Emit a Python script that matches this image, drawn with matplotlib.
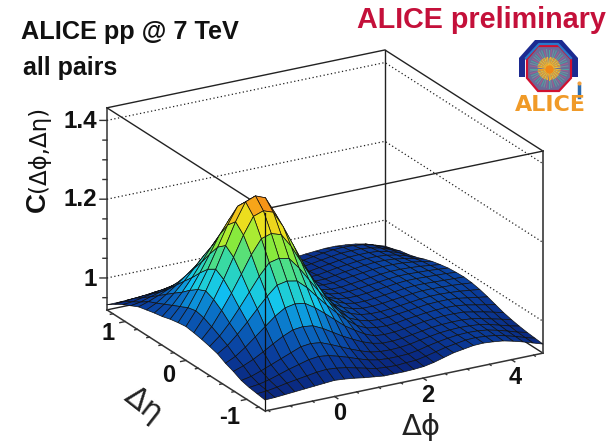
import numpy as np
import matplotlib
matplotlib.use('Agg')
from matplotlib import pyplot as plt
from matplotlib.colors import LinearSegmentedColormap, Normalize
from matplotlib.patches import Polygon
from mpl_toolkits.mplot3d import proj3d

plt.rcParams['font.family'] = ['Liberation Sans', 'DejaVu Sans']

# grid of the surface
phi = np.linspace(-np.pi / 2, 3 * np.pi / 2, 29)
eta = np.linspace(-1.3, 1.3, 21)
corr = [
    [.947, .948, .950, .952, .954, .956, .958, .960, .958, .955, .951, .948, .945, .945, .945, .946, .948, .953, .960, .967, .971, .975, .976, .974, .971, .965, .958, .950, .942],
    [.950, .952, .956, .961, .965, .969, .973, .975, .973, .969, .963, .957, .951, .949, .948, .950, .951, .956, .962, .968, .972, .976, .977, .975, .972, .966, .959, .951, .944],
    [.953, .956, .962, .970, .978, .985, .992, .995, .992, .985, .977, .968, .960, .955, .953, .953, .954, .958, .964, .969, .973, .976, .977, .976, .973, .967, .960, .952, .946],
    [.958, .963, .972, .982, .992, 1.002, 1.012, 1.015, 1.012, 1.002, .991, .980, .970, .962, .958, .957, .958, .961, .966, .970, .974, .976, .977, .976, .974, .969, .962, .955, .949],
    [.968, .977, .988, 1.002, 1.017, 1.031, 1.042, 1.045, 1.042, 1.030, 1.015, 1.000, .987, .975, .966, .961, .961, .963, .967, .971, .975, .977, .978, .978, .976, .971, .965, .959, .953],
    [.976, .988, 1.006, 1.027, 1.048, 1.069, 1.085, 1.090, 1.086, 1.070, 1.050, 1.029, 1.008, .992, .977, .967, .965, .966, .969, .973, .977, .979, .981, .981, .980, .975, .970, .964, .958],
    [.987, 1.003, 1.026, 1.052, 1.080, 1.107, 1.130, 1.135, 1.130, 1.108, 1.080, 1.053, 1.028, 1.005, .986, .974, .970, .969, .971, .975, .978, .981, .983, .984, .983, .980, .975, .970, .965],
    [.993, 1.014, 1.042, 1.075, 1.110, 1.145, 1.174, 1.180, 1.174, 1.145, 1.110, 1.075, 1.043, 1.015, .992, .981, .974, .972, .973, .976, .979, .982, .985, .986, .986, .984, .980, .976, .972],
    [.998, 1.025, 1.061, 1.100, 1.143, 1.187, 1.222, 1.230, 1.222, 1.187, 1.143, 1.100, 1.061, 1.025, .998, .985, .977, .974, .974, .976, .979, .982, .985, .987, .987, .986, .984, .981, .978],
    [1.002, 1.035, 1.076, 1.122, 1.173, 1.224, 1.266, 1.275, 1.266, 1.224, 1.173, 1.122, 1.076, 1.035, 1.002, .988, .979, .975, .975, .977, .980, .983, .986, .988, .988, .987, .986, .984, .982],
    [1.005, 1.040, 1.085, 1.135, 1.190, 1.245, 1.290, 1.300, 1.290, 1.245, 1.190, 1.135, 1.085, 1.040, 1.005, .990, .980, .975, .975, .977, .980, .983, .986, .988, .988, .987, .986, .985, .984],
    [1.002, 1.035, 1.076, 1.122, 1.173, 1.224, 1.266, 1.275, 1.266, 1.224, 1.173, 1.122, 1.076, 1.035, 1.002, .988, .979, .975, .975, .977, .980, .983, .986, .988, .988, .987, .986, .985, .983],
    [.998, 1.025, 1.061, 1.100, 1.143, 1.187, 1.222, 1.230, 1.222, 1.187, 1.143, 1.100, 1.061, 1.025, .998, .986, .978, .974, .974, .976, .979, .982, .985, .987, .987, .986, .985, .983, .981],
    [.992, 1.015, 1.043, 1.075, 1.110, 1.145, 1.174, 1.180, 1.174, 1.145, 1.110, 1.075, 1.043, 1.015, .992, .984, .976, .972, .972, .975, .978, .981, .984, .986, .986, .985, .983, .980, .977],
    [.988, 1.005, 1.028, 1.053, 1.080, 1.108, 1.130, 1.135, 1.130, 1.108, 1.080, 1.053, 1.028, 1.005, .988, .981, .973, .970, .970, .974, .977, .980, .983, .985, .985, .984, .981, .977, .972],
    [.983, .995, 1.012, 1.030, 1.050, 1.070, 1.086, 1.090, 1.086, 1.070, 1.050, 1.030, 1.012, .995, .983, .976, .970, .967, .967, .971, .975, .978, .981, .983, .983, .981, .977, .972, .965],
    [.978, .986, .996, 1.007, 1.020, 1.032, 1.043, 1.045, 1.043, 1.032, 1.020, 1.007, .996, .986, .978, .971, .966, .963, .964, .968, .972, .975, .978, .980, .980, .978, .973, .966, .957],
    [.968, .972, .980, .987, .995, 1.000, 1.007, 1.010, 1.007, 1.000, .995, .987, .980, .972, .968, .965, .961, .960, .961, .965, .969, .973, .976, .977, .977, .975, .969, .961, .951],
    [.958, .960, .965, .970, .975, .980, .984, .985, .984, .980, .975, .970, .965, .960, .958, .958, .956, .956, .958, .962, .966, .970, .973, .974, .974, .971, .965, .956, .947],
    [.946, .948, .951, .953, .956, .958, .960, .960, .960, .958, .956, .953, .951, .950, .950, .952, .951, .952, .955, .958, .962, .966, .969, .970, .969, .966, .960, .950, .940],
    [.932, .932, .933, .934, .935, .935, .936, .936, .936, .935, .936, .937, .938, .939, .940, .942, .944, .947, .950, .953, .956, .958, .960, .960, .958, .955, .950, .942, .934],
]
phi_major = [0, 2, 4]
phi_minor = [-1.5, -1, -.5, .5, 1, 1.5, 2.5, 3, 3.5, 4.5]
eta_major = [-1, 0, 1]
eta_minor = [-1.2, -.8, -.6, -.4, -.2, .2, .4, .6, .8, 1.2]
z_major = [1, 1.2, 1.4]
z_minor = [.95, 1.05, 1.1, 1.15, 1.25, 1.3, 1.35]

x0, x1 = phi[0], phi[-1]
y0, y1 = eta[0], eta[-1]
z0, z1 = .919, 1.432

cmap = LinearSegmentedColormap.from_list('alice', [
    (0.00, '#0a1c70'), (0.14, '#0a3f9e'), (0.25, '#0a6cc4'), (0.36, '#10c4f4'),
    (0.50, '#30d8b0'), (0.65, '#80e840'), (0.76, '#e8f020'), (0.92, '#f8a018'),
    (1.00, '#f05a10')])
norm = Normalize(.93, 1.30)

fig = plt.figure(figsize=(6.12, 4.42), dpi=100)
ax = fig.add_axes([(612 - 442) / 2 / 612, 0, 442 / 612, 1], projection='3d',
                  proj_type='ortho', computed_zorder=False)
ax.set_box_aspect((320, 319, 217))
ax.view_init(elev=21.4, azim=-119.7)
ax.set_xlim(x0, x1, view_margin=0)
ax.set_ylim(y0, y1, view_margin=0)
ax.set_zlim(z0, z1, view_margin=0)
ax.set_axis_off()

# put the box on the same pixels as in the picture
ax.apply_aspect()


def to_px(x, y, z):
    u, v, _ = proj3d.proj_transform(x, y, z, ax.get_proj())
    return ax.transData.transform((u, v))


pf = to_px(x0, y0, z0)
pr = to_px(x1, y0, z0)
f = 278 / (pr[0] - pf[0])
size = 442 * f
cx = 265 - f * (pf[0] - 306)
cy = (442 - 411) - f * (pf[1] - 221)
ax.set_position([(cx - size / 2) / 612, (cy - size / 2) / 442, size / 612, size / 442])

X, Y = np.meshgrid(phi, eta)
Z = np.array(corr)


def line3(xs, ys, zs, zo=1, **kw):
    style = dict(color='#222222', lw=1.0, clip_on=False, zorder=zo)
    style.update(kw)
    ax.plot(xs, ys, zs, **style)


# back walls with the dotted lines
line3([x0, x1, x1], [y1, y1, y0], [z1, z1, z1])
line3([x0, x1, x1], [y1, y1, y0], [z0, z0, z0])
line3([x1, x1], [y1, y1], [z0, z1])
line3([x1, x1], [y0, y0], [z0, z1], color='#555555', lw=1.4)
line3([x0, x0], [y1, y1], [z0, z1], color='#444444', lw=1.2)
line3([x0, x0, x1], [y1, y0, y0], [z1, z1, z1])
for v in z_major:
    line3([x0, x1, x1], [y1, y1, y0], [v, v, v], lw=.9, ls=(0, (1, 2)))

ax.plot_surface(X, Y, Z, facecolors=cmap(norm(Z)), edgecolor='#101010', linewidth=.5,
                rstride=1, cstride=1, shade=False, antialiased=True, zorder=2)

# front edges stay over the surface
line3([x0, x0], [y0, y0], [z0, z1 - .01], zo=3, lw=.9, color='#111111')
line3([x0, x0, x1], [y1, y0, y0], [z0, z0, z0], zo=3, color='#333333', lw=1.1)

# ticks: one pixel along the screen is about .017 in phi and .004 in eta
for v, n in [(a, 7) for a in z_major] + [(a, 4) for a in z_minor]:
    line3([x0, x0 - .01704 * n], [y1, y1 + .00405 * n], [v, v], zo=3, color='#333333')
for v, n in [(a, 6) for a in phi_major] + [(a, 3) for a in phi_minor]:
    line3([v, v], [y0, y0 - .0090 * n], [z0, z0], zo=3, color='#333333')
for v, n in [(a, 6) for a in eta_major] + [(a, 3) for a in eta_minor]:
    line3([x0, x0 - .0200 * n], [v, v], [z0, z0], zo=3, color='#333333')

# texts and logo in picture pixels
top = fig.add_axes([0, 0, 1, 1], zorder=5)
top.set_xlim(0, 612)
top.set_ylim(442, 0)
top.axis('off')
top.patch.set_alpha(0)

top.text(21, 32, 'ALICE pp @ 7 TeV', fontsize=18.2, fontweight='bold', color='#111111', ha='left', va='center')
top.text(23, 68, 'all pairs', fontsize=18, fontweight='bold', color='#111111', ha='left', va='center')
top.text(606, 20, 'ALICE preliminary', fontsize=20.7, fontweight='bold', color='#c4103a', ha='right', va='center')

for lab, yy in zip(['1', '1.2', '1.4'], [280, 199, 121]):
    top.text(97, yy, lab, fontsize=17.5, fontweight='bold', color='#111111', ha='right', va='center')
for lab, xx, yy in zip(['0', '2', '4'], [340, 428, 515], [413, 395, 377]):
    top.text(xx, yy, lab, fontsize=17, fontweight='bold', color='#111111', ha='center', va='center')
for lab, xx, yy in zip(['-1', '0', '1'], [230, 169, 108], [418, 375, 334]):
    top.text(xx, yy, lab, fontsize=17, fontweight='bold', color='#111111', ha='center', va='center')

top.text(38, 202, 'C', fontsize=20, fontweight='bold', rotation=90, color='#111111', ha='center', va='center')
top.text(38, 149, '(Δϕ,Δη)', fontsize=16.5, rotation=90, color='#111111', ha='center', va='center', family='DejaVu Sans')
top.text(421, 427, 'Δϕ', fontsize=21, color='#222222', ha='center', va='center', family='DejaVu Sans')
top.text(144, 405, 'Δη', fontsize=22, rotation=-38, color='#222222', ha='center', va='center', family='DejaVu Sans')

# logo
arch = [(519, 77), (519, 58), (535, 40), (562, 40), (578, 58), (578, 77), (572, 77), (572, 60), (559, 46), (538, 46), (525, 60), (525, 77)]
top.add_patch(Polygon(arch, closed=True, fc='#1c2a90', ec='none'))
top.plot([526, 539, 558, 571], [58, 44, 44, 58], color='#2a78c8', lw=1.6)
octa = [(538, 46), (559, 46), (571, 59), (571, 78), (559, 91), (538, 91), (527, 78), (527, 59)]
top.add_patch(Polygon(octa, closed=True, fc='#6a6a98', ec='#d01030', lw=1.6))
for i, a in enumerate(np.linspace(0, 2 * np.pi, 48, endpoint=False)):
    c = ['#50a0a0', '#a06090', '#7090a0'][i % 3]
    top.plot([549 + 6 * np.cos(a), 549 + 19 * np.cos(a)], [68.5 + 6 * np.sin(a), 68.5 + 19 * np.sin(a)], color=c, lw=.8)
    top.plot([549, 549 + 11 * np.cos(a)], [68.5, 68.5 + 11 * np.sin(a)], color=['#f0a020', '#e8c040'][i % 2], lw=.8)
top.plot([549], [68.5], 'o', color='#f08818', ms=6, mew=0)
top.plot([579, 579], [86, 97], color='#2a6ab0', lw=2.5)
top.plot([578.5], [83], 'o', color='#f0a040', ms=3, mew=0)
top.text(550, 105, 'ALICE', fontsize=16, fontweight='bold', color='#f09a28', ha='center', va='center', family='DejaVu Sans')

fig.savefig('out.png', dpi=100)
